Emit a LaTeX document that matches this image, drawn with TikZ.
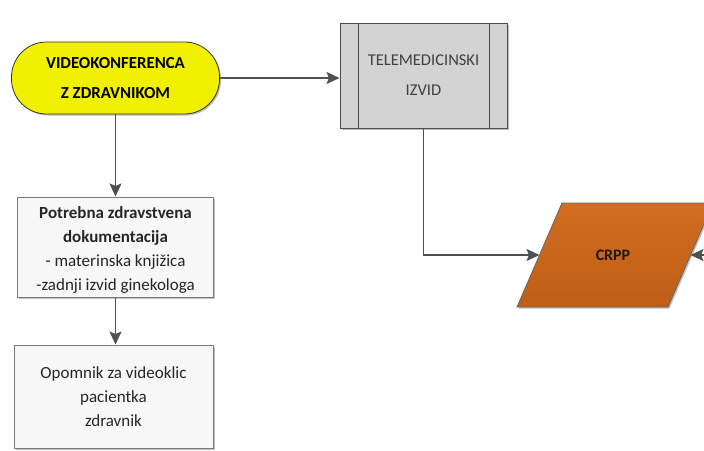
\documentclass[tikz,border=0pt]{standalone}
\usepackage{fontspec}
\setmainfont{Carlito}
\usetikzlibrary{shadows,calc,arrows.meta}
\definecolor{linegray}{HTML}{505050}
\definecolor{boxborder}{HTML}{7A7A7A}
\definecolor{termyellow}{HTML}{F0F000}
\definecolor{procgray}{HTML}{D3D3D3}
\definecolor{crpptop}{HTML}{D26D20}
\definecolor{crppbot}{HTML}{BE5E16}
\tikzset{
  shade/.style={drop shadow={shadow xshift=1.5pt,shadow yshift=-1.5pt,opacity=0.25,fill=black}},
  terminal/.style={shade,draw=black!80,line width=0.8pt,fill=termyellow,rounded corners=35pt,
    minimum width=208pt,minimum height=72pt,inner sep=0pt,align=center,
    font=\fontsize{16.8}{29.5}\selectfont\bfseries},
  predef/.style={shade,draw=black!70,line width=1pt,fill=procgray,minimum width=167pt,minimum height=105pt,
    inner sep=0pt,align=center,font=\fontsize{16.5}{30}\selectfont,text=black!75},
  docbox/.style={shade,draw=boxborder,line width=1pt,fill=white!97!black,inner sep=0pt,align=center,
    font=\fontsize{17}{24}\selectfont,text=black!85},
  iotext/.style={inner sep=0pt,font=\fontsize{16}{18}\selectfont\bfseries,text=black!90},
  iofill/.style={shade,draw=black!60,line width=0.8pt,top color=crpptop,bottom color=crppbot},
  conn/.style={draw=linegray,line width=1.7pt,-{Stealth[length=13pt,width=12pt,inset=2.5pt]}},
}
\begin{document}
\begin{tikzpicture}[x=1pt,y=-1pt]
\useasboundingbox (0,0) rectangle (704,450);
\clip (0,0) rectangle (704,450);
\node[terminal] (vk) at (115.5,78) {VIDEOKONFERENCA\\Z ZDRAVNIKOM};
\node[predef] (tm) at (423.5,75.5) {TELEMEDICINSKI\\IZVID};
\draw[black!70,line width=1pt] ($(tm.north west)+(19,0)$) -- ($(tm.south west)+(19,0)$);
\draw[black!70,line width=1pt] ($(tm.north east)+(-18,0)$) -- ($(tm.south east)+(-18,0)$);
\node[docbox,minimum width=196pt,minimum height=100pt] (doc) at (115.5,247)
  {\rule{0pt}{18pt}\textbf{Potrebna zdravstvena}\\\textbf{dokumentacija}\\- materinska knjižica\\-zadnji izvid ginekologa};
\node[docbox,minimum width=199pt,minimum height=103pt] (op) at (113.5,396.5)
  {Opomnik za videoklic\\pacientka\\zdravnik};
% CRPP data (parallelogram)
\path[iofill] (517,307) -- (562,203) -- (713,203) -- (668,307) -- cycle;
\node[iotext] (crpp) at (613,255) {CRPP};
\coordinate (crppW) at (539.5,255);
\coordinate (crppE) at (690.5,255);
\coordinate (rin) at (706,255);
\draw[conn] (vk.east) -- (vk.east -| tm.west);
\draw[conn] (vk.south) -- (doc.north);
\draw[conn] (doc.south) -- (doc.south |- op.north);
\draw[conn] (tm.south) |- (crppW);
\draw[conn] (rin) -- (crppE);
\end{tikzpicture}
\end{document}
